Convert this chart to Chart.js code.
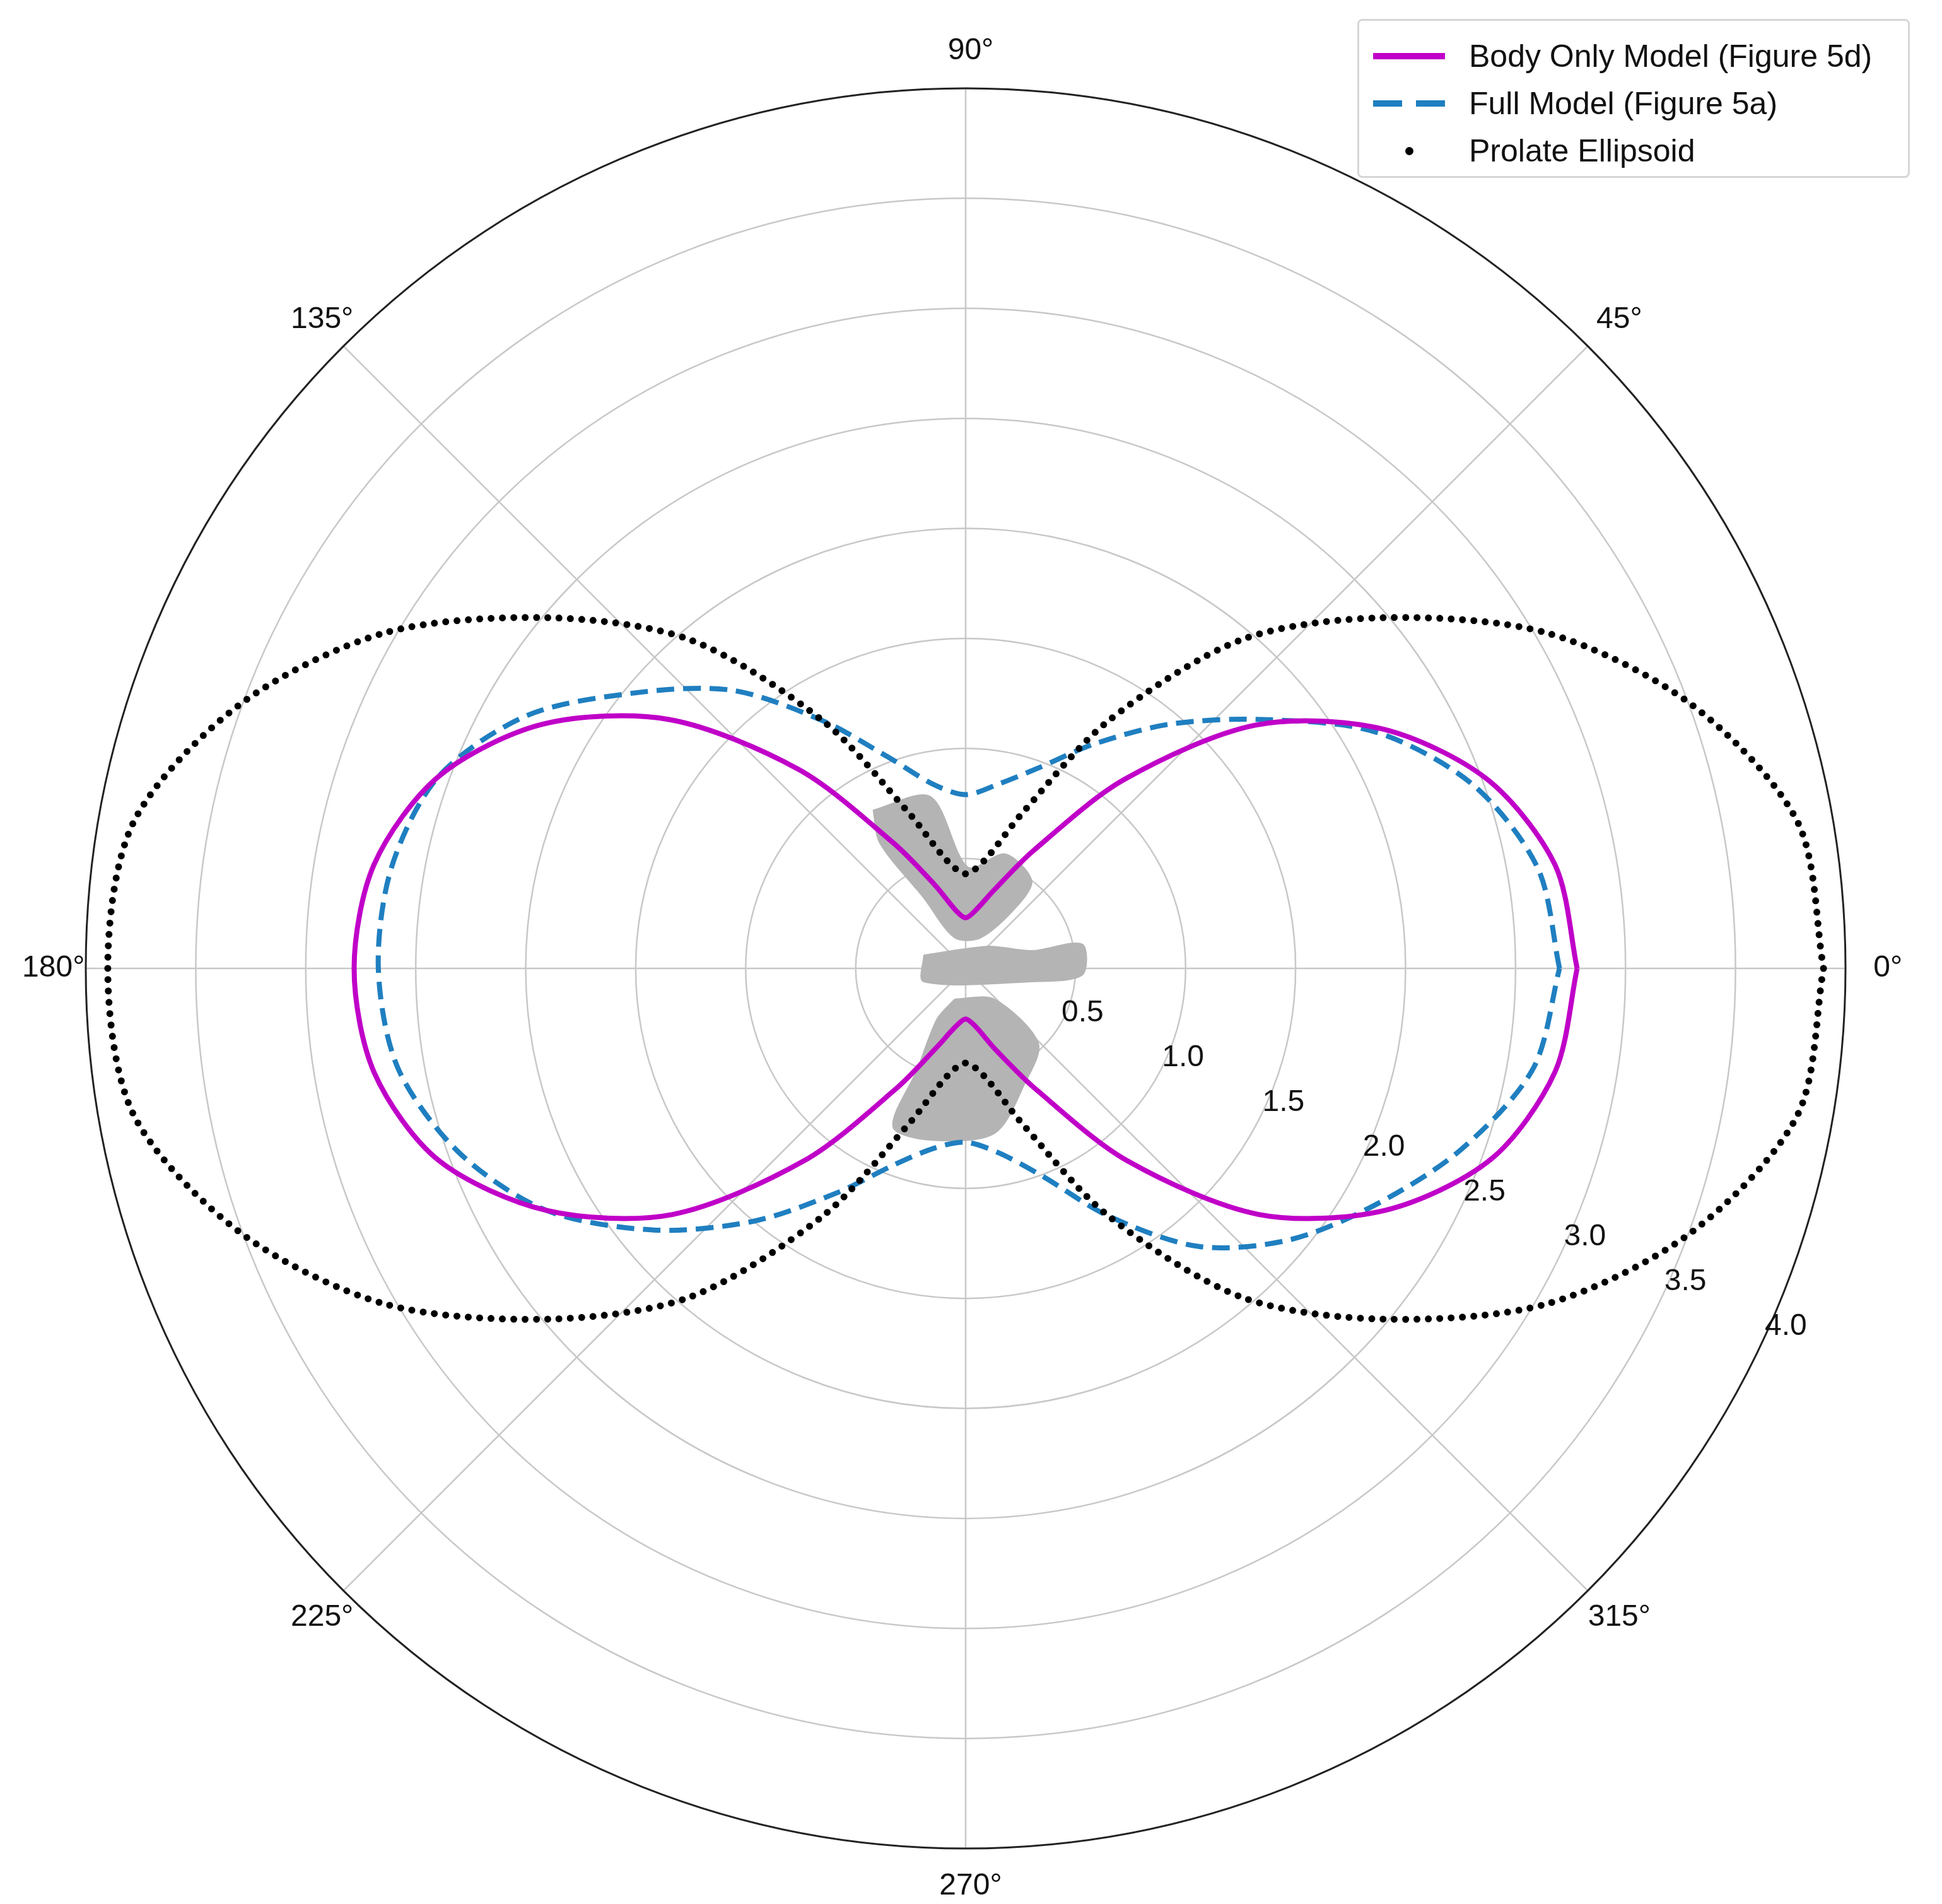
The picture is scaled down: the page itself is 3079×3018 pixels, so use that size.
<!DOCTYPE html>
<html>
<head>
<meta charset="utf-8">
<script src="https://cdn.jsdelivr.net/npm/chart.js@4.4.1/dist/chart.umd.min.js"></script>
<style>
  html, body { margin: 0; padding: 0; background: #fff; }
  #wrap { position: relative; width: 3079px; height: 3018px; }
  #legend {
    position: absolute; left: 2152px; top: 30px; width: 876px; height: 252px;
    border: 3px solid #d6d6d6; border-radius: 8px; background: rgba(255,255,255,0.85);
    font-family: "Liberation Sans", Arial, sans-serif; font-size: 50px; color: #111;
    box-sizing: border-box;
  }
  .row { position: absolute; left: 0; height: 60px; display: flex; align-items: center; }
  .sample { width: 114px; margin-left: 22px; margin-right: 38px; height: 10px; }
</style>
</head>
<body>
<div id="wrap">
  <canvas id="chart" width="3079" height="3018"></canvas>
  <div id="legend">
    <div class="row" style="top:26px"><div class="sample" style="background:#c000c8"></div>Body Only Model (Figure 5d)</div>
    <div class="row" style="top:101px"><div class="sample" style="background:repeating-linear-gradient(90deg,#1f7fc0 0 46px,transparent 46px 68px)"></div>Full Model (Figure 5a)</div>
    <div class="row" style="top:176px"><div class="sample" style="display:flex;justify-content:center;align-items:center;height:14px"><span style="width:13px;height:13px;border-radius:50%;background:#000;display:block"></span></div>Prolate Ellipsoid</div>
  </div>
</div>
<script>
// angles in degrees, 0..350 step 10
const angles = [0,10,20,30,40,50,60,70,80,90,100,110,120,130,140,150,160,170,
                180,190,200,210,220,230,240,250,260,270,280,290,300,310,320,330,340,350];

const bodyOnly = [2.78,2.72,2.52,2.18,1.72,1.12,0.62,0.38,0.27,0.23,0.27,0.40,0.66,1.18,1.76,2.22,2.55,2.73,
                  2.78,2.73,2.55,2.20,1.74,1.14,0.63,0.38,0.27,0.23,0.27,0.39,0.63,1.14,1.74,2.20,2.54,2.72];

const fullModel = [2.70,2.64,2.45,2.15,1.76,1.45,1.18,0.97,0.85,0.79,0.85,1.02,1.30,1.65,1.95,2.30,2.55,2.65,
                   2.67,2.62,2.45,2.20,1.85,1.50,1.18,0.95,0.83,0.79,0.85,1.00,1.30,1.65,1.92,2.15,2.40,2.62];

const ellipsoid = [3.90,3.84,3.51,3.05,2.48,1.95,1.30,0.75,0.50,0.43,0.50,0.75,1.30,1.95,2.48,3.05,3.51,3.84,
                   3.90,3.84,3.51,3.05,2.48,1.95,1.30,0.75,0.50,0.43,0.50,0.75,1.30,1.95,2.48,3.05,3.51,3.84];

// rough outline of the grey insect silhouette (x, y in radial units)
const wingTop = [[-0.42,0.72],[-0.16,0.78],[0.01,0.46],[0.18,0.52],[0.30,0.40],[0.24,0.29],
                 [0.07,0.14],[-0.05,0.14],[-0.19,0.32],[-0.39,0.57]];
const insectBody = [[-0.19,0.06],[0.10,0.10],[0.30,0.08],[0.53,0.11],[0.53,-0.03],[0.30,-0.06],[-0.19,-0.06]];
const wingBottom = [[-0.05,-0.14],[0.13,-0.14],[0.33,-0.34],[0.27,-0.52],[0.13,-0.75],[-0.16,-0.78],
                    [-0.33,-0.72],[-0.22,-0.46],[-0.13,-0.23]];

const ringTicks = [0.5,1.0,1.5,2.0,2.5,3.0,3.5];
const spokeAngles = [0,45,90,135,180,225,270,315];
const R_MAX = 4.0;

function toXY(rs) {
  const pts = angles.map((a, i) => {
    const t = a * Math.PI / 180;
    return { x: rs[i] * Math.cos(t), y: rs[i] * Math.sin(t) };
  });
  pts.push(pts[0]);
  return pts;
}
const poly = arr => arr.concat([arr[0]]).map(p => ({ x: p[0], y: p[1] }));

const FONT = '"Liberation Sans", Arial, sans-serif';

const polarGrid = {
  id: 'polarGrid',
  beforeDatasetsDraw(chart) {
    const { ctx, scales: { x, y } } = chart;
    const cx = x.getPixelForValue(0), cy = y.getPixelForValue(0);
    const unit = x.getPixelForValue(1) - cx;
    ctx.save();
    ctx.strokeStyle = '#c8c8c8';
    ctx.lineWidth = 2.5;
    ringTicks.forEach(r => {
      ctx.beginPath(); ctx.arc(cx, cy, r * unit, 0, Math.PI * 2); ctx.stroke();
    });
    spokeAngles.forEach(a => {
      const t = a * Math.PI / 180;
      ctx.beginPath(); ctx.moveTo(cx, cy);
      ctx.lineTo(cx + R_MAX * unit * Math.cos(t), cy - R_MAX * unit * Math.sin(t)); ctx.stroke();
    });
    ctx.strokeStyle = '#222'; ctx.lineWidth = 3;
    ctx.beginPath(); ctx.arc(cx, cy, R_MAX * unit, 0, Math.PI * 2); ctx.stroke();
    ctx.restore();
  },
  afterDatasetsDraw(chart) {
    const { ctx, scales: { x, y } } = chart;
    const cx = x.getPixelForValue(0), cy = y.getPixelForValue(0);
    const unit = x.getPixelForValue(1) - cx;
    ctx.save();
    ctx.fillStyle = '#111';
    ctx.font = '48px ' + FONT;
    ctx.textAlign = 'center'; ctx.textBaseline = 'middle';
    spokeAngles.forEach(a => {
      const t = a * Math.PI / 180;
      ctx.fillText(a + '°', cx + 4.17 * unit * Math.cos(t) + 8, cy - 4.17 * unit * Math.sin(t));
    });
    ringTicks.concat([4.0]).forEach(r => {
      const t = -24 * Math.PI / 180;
      ctx.fillText(r.toFixed(1), cx + r * unit * Math.cos(t) + 26, cy - r * unit * Math.sin(t));
    });
    ctx.restore();
  }
};

const grey = { showLine: true, fill: 'shape', backgroundColor: '#b4b4b4', borderColor: '#b4b4b4',
               borderWidth: 2, pointRadius: 0, tension: 0.3 };

new Chart(document.getElementById('chart'), {
  type: 'scatter',
  data: {
    datasets: [
      { label: 'Body Only Model (Figure 5d)', data: toXY(bodyOnly), showLine: true, tension: 0.3,
        borderColor: '#c000c8', borderWidth: 8, pointRadius: 0 },
      { label: 'Prolate Ellipsoid', data: toXY(ellipsoid), showLine: true, tension: 0.3,
        borderColor: '#000', borderWidth: 11, borderDash: [0, 18], borderCapStyle: 'round',
        pointRadius: 0 },
      { label: 'Full Model (Figure 5a)', data: toXY(fullModel), showLine: true, tension: 0.3,
        borderColor: '#1f7fc0', borderWidth: 8, borderDash: [28, 14], pointRadius: 0 },
      Object.assign({ label: 'wing top', data: poly(wingTop) }, grey),
      Object.assign({ label: 'body', data: poly(insectBody) }, grey),
      Object.assign({ label: 'wing bottom', data: poly(wingBottom) }, grey)
    ]
  },
  options: {
    responsive: false, animation: false,
    layout: { padding: { left: 136, right: 153, top: 140, bottom: 88 } },
    scales: {
      x: { type: 'linear', min: -R_MAX, max: R_MAX, display: false },
      y: { type: 'linear', min: -R_MAX, max: R_MAX, display: false }
    },
    plugins: { legend: { display: false }, tooltip: { enabled: false } }
  },
  plugins: [polarGrid]
});
</script>
</body>
</html>
